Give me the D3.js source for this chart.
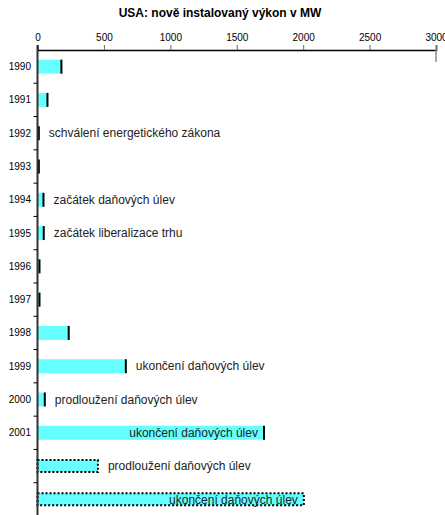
<!DOCTYPE html>
<html>
<head>
<meta charset="utf-8">
<script src="https://cdn.jsdelivr.net/npm/d3@7"></script>
<style>
  body { margin: 0; background: #fff; }
  svg { font-family: "Liberation Sans", Arial, sans-serif; }
</style>
</head>
<body>
<div id="chart"></div>
<script>
// years on the left axis, the last two rows are unlabeled projections
const rowLabels = ['1990','1991','1992','1993','1994','1995','1996','1997','1998','1999','2000','2001','','']
const capacity = [180, 75, 10, 10, 45, 47, 15, 15, 235, 665, 55, 1705, 455, 2005]
const projected = [false,false,false,false,false,false,false,false,false,false,false,false,true,true]
const notes = ['', '', 'schválení energetického zákona', '', 'začátek daňových úlev',
    'začátek liberalizace trhu', '', '', '', 'ukončení daňových úlev',
    'prodloužení daňových úlev', 'ukončení daňových úlev', 'prodloužení daňových úlev',
    'ukončení daňových úlev']
const xTicks = [0, 500, 1000, 1500, 2000, 2500, 3000]
const title = 'USA: nově instalovaný výkon v MW'

const width = 445, height = 515
const svg = d3.select('#chart').append('svg')
    .attr('width', width)
    .attr('height', height)

const rows = rowLabels.map((label, i) => ({
    i, label, value: capacity[i], proj: projected[i], note: notes[i]
}))

const x = d3.scaleLinear().domain([0, 3000]).range([37.5, 436])
const y = d3.scaleBand()
    .domain(rows.map(d => d.i))
    .range([50, 516])
    .paddingInner(0.58)
    .paddingOuter(0.29)
const gap = (y.step() - y.bandwidth()) / 2

svg.append('text')
    .attr('x', 220)
    .attr('y', 17)
    .attr('text-anchor', 'middle')
    .style('font-size', '12px')
    .style('font-weight', 'bold')
    .text(title)

// top axis
const xAx = svg.append('g')
    .attr('transform', 'translate(0,50)')
    .call(d3.axisTop(x).tickValues(xTicks).tickSize(5).tickPadding(4).tickFormat(d3.format('d')))
xAx.select('.domain').attr('stroke', '#000').attr('stroke-width', 1.5)
xAx.selectAll('.tick line').attr('stroke', '#666')
xAx.selectAll('text').style('font-size', '10px').attr('fill', '#000')

// grey stub below the 3000 tick
svg.append('line')
    .attr('x1', x(3000)).attr('x2', x(3000))
    .attr('y1', 50).attr('y2', 62)
    .attr('stroke', '#888').attr('stroke-width', 1.5)

// bars
const bars = svg.append('g')
bars.selectAll('rect')
    .data(rows)
    .join('rect')
    .attr('x', x(0))
    .attr('y', d => y(d.i) + (d.proj ? 1 : 0))
    .attr('width', d => x(d.value) - x(0))
    .attr('height', d => y.bandwidth() - (d.proj ? 2 : 0))
    .attr('fill', '#66ffff')
    .attr('stroke', d => d.proj ? '#000' : 'none')
    .attr('stroke-width', 2)
    .attr('stroke-dasharray', d => d.proj ? '2,2' : null)

// black mark at the end of actual bars
bars.selectAll('line')
    .data(rows.filter(d => !d.proj))
    .join('line')
    .attr('x1', d => x(d.value))
    .attr('x2', d => x(d.value))
    .attr('y1', d => y(d.i))
    .attr('y2', d => y(d.i) + y.bandwidth())
    .attr('stroke', '#000')
    .attr('stroke-width', 2)

// left axis, drawn by hand: labels centred on rows, ticks between rows
const yAx = svg.append('g')
yAx.append('line')
    .attr('x1', x(0)).attr('x2', x(0))
    .attr('y1', 45).attr('y2', height)
    .attr('stroke', '#333').attr('stroke-width', 2)
yAx.selectAll('.ytick')
    .data(rows.slice(1))
    .join('line')
    .attr('class', 'ytick')
    .attr('x1', x(0) - 4).attr('x2', x(0))
    .attr('y1', d => y(d.i) - gap)
    .attr('y2', d => y(d.i) - gap)
    .attr('stroke', '#000')
yAx.selectAll('text')
    .data(rows)
    .join('text')
    .attr('x', 31)
    .attr('y', d => y(d.i) + y.bandwidth() / 2)
    .attr('dy', '0.35em')
    .attr('text-anchor', 'end')
    .style('font-size', '10px')
    .text(d => d.label)

// annotations
svg.append('g').selectAll('text')
    .data(rows.filter(d => d.note))
    .join('text')
    .attr('x', d => d.value > 1500 ? x(d.value) - 6 : x(d.value) + 10)
    .attr('y', d => y(d.i) + y.bandwidth() / 2)
    .attr('dy', '0.35em')
    .attr('text-anchor', d => d.value > 1500 ? 'end' : 'start')
    .style('font-size', '12px')
    .attr('fill', '#222')
    .text(d => d.note)
</script>
</body>
</html>
